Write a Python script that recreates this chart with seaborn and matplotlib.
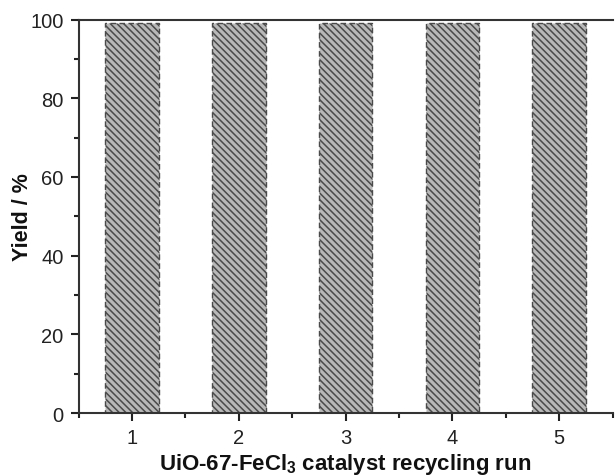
import matplotlib
matplotlib.use("Agg")
import matplotlib.pyplot as plt
import seaborn as sns
import pandas as pd
from matplotlib.ticker import MultipleLocator

# Catalyst recycling data
runs = ["1", "2", "3", "4", "5"]
yields = [99.0, 99.0, 99.0, 99.0, 99.0]

df = pd.DataFrame({"run": runs, "yield": yields})

sns.set_style("white")
plt.rcParams["font.family"] = ["Liberation Sans", "DejaVu Sans"]
plt.rcParams["hatch.linewidth"] = 1.1
plt.rcParams["mathtext.fontset"] = "custom"
plt.rcParams["mathtext.bf"] = "Liberation Sans:bold"
plt.rcParams["mathtext.rm"] = "Liberation Sans"

fig = plt.figure(figsize=(6.15, 4.77), dpi=100)
ax = fig.add_axes([0.128, 0.132, 0.868, 0.825])

sns.barplot(data=df, x="run", y="yield", order=runs, width=0.5,
            color="#b4b4b4", saturation=1, ax=ax)

for bar in ax.patches:
    bar.set_facecolor("#b8b8b8")
    bar.set_edgecolor("#4a4a4a")
    bar.set_hatch("\\" * 5)
    bar.set_linestyle((0, (4, 2.5)))
    bar.set_linewidth(1.0)

ax.set_xlim(-0.5, 4.5)
ax.set_ylim(0, 100)
ax.yaxis.set_major_locator(MultipleLocator(20))
ax.yaxis.set_minor_locator(MultipleLocator(10))
ax.xaxis.set_minor_locator(MultipleLocator(0.5))

ax.tick_params(axis="both", which="major", direction="out", length=6, width=1.5,
               labelsize=14.5, color="#222222", labelcolor="#222222", pad=5)
ax.tick_params(axis="both", which="minor", direction="out", length=3.5, width=1.5,
               color="#222222")
ax.tick_params(bottom=True, left=True, which="both")

for side in ["left", "bottom", "top"]:
    ax.spines[side].set_visible(True)
    ax.spines[side].set_linewidth(1.5)
    ax.spines[side].set_color("#333333")
ax.spines["right"].set_visible(False)

ax.set_xlabel("UiO-67-FeCl$_\\mathbf{3}$ catalyst recycling run", fontsize=16,
              fontweight="bold", color="#111111", labelpad=3)
ax.set_ylabel("Yield / %", fontsize=15.5, fontweight="bold", color="#111111",
              labelpad=-2)

fig.savefig("out.png", dpi=100)
